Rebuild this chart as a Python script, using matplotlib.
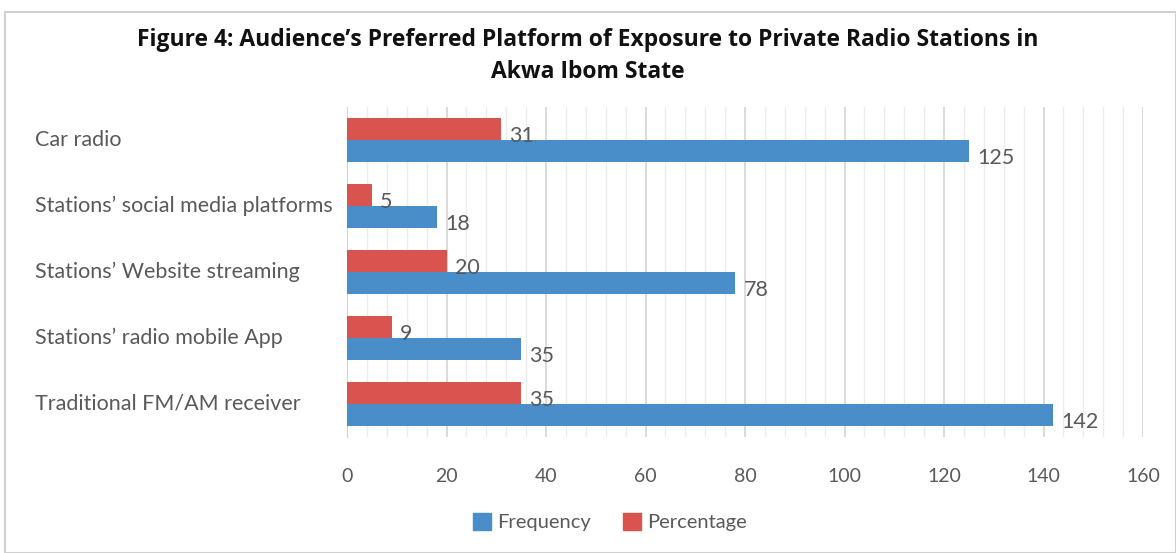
import matplotlib
matplotlib.use("Agg")
import matplotlib.pyplot as plt
import numpy as np
from matplotlib.transforms import blended_transform_factory
from matplotlib.patches import Rectangle, Patch
from matplotlib.ticker import MultipleLocator

categories = ["Traditional FM/AM receiver", "Stations\u2019 radio mobile App",
              "Stations\u2019 Website streaming", "Stations\u2019 social media platforms",
              "Car radio"]
frequency = [142, 35, 78, 18, 125]
percentage = [35, 9, 20, 5, 31]
xticks = [0, 20, 40, 60, 80, 100, 120, 140, 160]

BLUE = "#4a8ec9"
RED = "#d9534f"
GRAY = "#595959"
FONT = "Lato"

fig = plt.figure(figsize=(11.76, 5.53), dpi=100)
fig.patches.append(Rectangle((5/1176, 0), 1 - 5/1176, 1 - 12/553, transform=fig.transFigure,
                             fill=False, edgecolor="#d0d0d0", linewidth=1.5))

left = 347/1176
right = 1143/1176
top = 1 - 107/553
bottom = 1 - 437/553
ax = fig.add_axes([left, bottom, right - left, top - bottom])

y = np.arange(len(categories))
h = 0.33
ax.barh(y - h/2, frequency, height=h, color=BLUE, zorder=3)
ax.barh(y + h/2, percentage, height=h, color=RED, zorder=3)

for yi, f, p in zip(y, frequency, percentage):
    ax.annotate(str(f), (f, yi - h/2), xytext=(6, -5), textcoords="offset points",
                ha="left", va="center", fontsize=15.5, color=GRAY, family=FONT, zorder=4)
    ax.annotate(str(p), (p, yi + h/2), xytext=(6, -5), textcoords="offset points",
                ha="left", va="center", fontsize=15.5, color=GRAY, family=FONT, zorder=4)

ax.set_xlim(0, 160)
ax.set_ylim(-0.5, len(categories) - 0.5)
ax.set_xticks(xticks)
ax.set_xticklabels([str(t) for t in xticks], fontsize=14, color=GRAY, family=FONT)
ax.xaxis.set_minor_locator(MultipleLocator(4))
ax.tick_params(axis="x", which="both", length=0, pad=22)
ax.grid(axis="x", which="major", color="#d4d4d4", linewidth=1.2, zorder=0)
ax.grid(axis="x", which="minor", color="#ececec", linewidth=1.0, zorder=0)
ax.set_yticks([])
for s in ["top", "right", "bottom"]:
    ax.spines[s].set_visible(False)
ax.spines["left"].set_color("#d4d4d4")

trans = blended_transform_factory(fig.transFigure, ax.transData)
for yi, c in zip(y, categories):
    ax.text(35/1176, yi, c, transform=trans, ha="left", va="center",
            fontsize=15.5, color=GRAY, family=FONT)

fig.text(0.5, 1 - 40/553, "Figure 4: Audience\u2019s Preferred Platform of Exposure to Private Radio Stations in",
         ha="center", va="center", fontsize=16.5, fontweight="bold", family="Open Sans", color="#111111")
fig.text(0.5, 1 - 72/553, "Akwa Ibom State",
         ha="center", va="center", fontsize=16.5, fontweight="bold", family="Open Sans", color="#111111")

handles = [Patch(color=BLUE, label="Frequency"), Patch(color=RED, label="Percentage")]
fig.legend(handles=handles, loc="center", bbox_to_anchor=(610/1176, 1 - 522/553), ncol=2,
           frameon=False, prop={"family": FONT, "size": 14.5}, labelcolor=GRAY,
           handlelength=0.9, handleheight=0.9, handletextpad=0.3, columnspacing=1.6)

fig.savefig("out.png", dpi=100, facecolor="white")
